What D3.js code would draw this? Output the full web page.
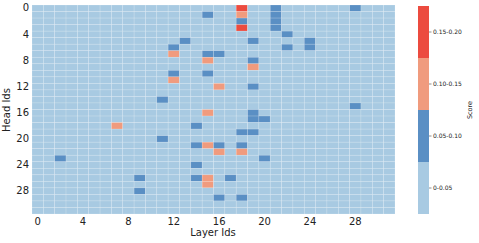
<!DOCTYPE html>
<html>
<head>
<meta charset="utf-8">
<script src="https://cdn.jsdelivr.net/npm/d3@7"></script>
<style>
body{margin:0;background:#fff;}
text{font-family:"DejaVu Sans",sans-serif;fill:#222;}
</style>
</head>
<body>
<div id="chart"></div>
<script>
// layer / head ids
const layers = d3.range(32);
const heads = d3.range(32);
const tickIds = [0,4,8,12,16,20,24,28];

// cells above the base level, as [layer, head, score]
const midCells = [
  [15,1,0.07],[18,2,0.07],[21,0,0.07],[21,1,0.07],[21,2,0.07],[21,3,0.07],[28,0,0.07],
  [22,4,0.07],[13,5,0.07],[19,5,0.07],[24,5,0.07],[12,6,0.07],[22,6,0.07],[24,6,0.07],
  [15,7,0.07],[16,7,0.07],[19,8,0.07],[12,10,0.07],[15,10,0.07],[19,12,0.07],[11,14,0.07],
  [28,15,0.07],[19,16,0.07],[19,17,0.07],[20,17,0.07],[14,18,0.07],[18,19,0.07],[19,19,0.07],
  [11,20,0.07],[14,21,0.07],[16,21,0.07],[18,21,0.07],[2,23,0.07],[20,23,0.07],[14,24,0.07],
  [9,26,0.07],[14,26,0.07],[17,26,0.07],[9,28,0.07],[16,29,0.07],[18,29,0.07]
];
const highCells = [
  [18,1,0.12],[12,7,0.12],[15,8,0.12],[19,9,0.12],[12,11,0.12],[16,12,0.12],[15,16,0.12],
  [7,18,0.12],[15,21,0.12],[16,22,0.12],[18,22,0.12],[15,26,0.12],[15,27,0.12]
];
const topCells = [[18,0,0.17],[18,3,0.17]];
const baseScore = 0.02;

const bins = ['0-0.05','0.05-0.10','0.10-0.15','0.15-0.20'];
const binColors = ['#a8cae2','#5a8fc4','#f09b7e','#ec4b3f'];

const W=479,H=243;
const svg=d3.select('#chart').append('svg').attr('width',W).attr('height',H);

const score=new Map();
[...midCells,...highCells,...topCells].forEach(([l,h,s])=>score.set(l+'_'+h,s));
const grid=[];
heads.forEach(h=>layers.forEach(l=>grid.push({l,h,s:score.get(l+'_'+h) ?? baseScore})));

const x=d3.scaleBand().domain(layers).range([32,395]);
const y=d3.scaleBand().domain(heads).range([5,214]);
const color=d3.scaleThreshold().domain([0.05,0.10,0.15]).range(binColors);

svg.append('g').selectAll('rect').data(grid).join('rect')
  .attr('x',d=>x(d.l)).attr('y',d=>y(d.h))
  .attr('width',x.bandwidth()).attr('height',y.bandwidth())
  .attr('fill',d=>color(d.s))
  .attr('stroke','#fff').attr('stroke-opacity',0.25).attr('stroke-width',0.6);

const xa=svg.append('g').attr('transform','translate(0,214)')
  .call(d3.axisBottom(x).tickValues(tickIds).tickSize(0).tickPadding(3));
const ya=svg.append('g').attr('transform','translate(32,0)')
  .call(d3.axisLeft(y).tickValues(tickIds).tickSize(0).tickPadding(3));
[xa,ya].forEach(a=>{a.select('.domain').remove();a.selectAll('text').style('font-size','10px').attr('fill','#222');});
xa.selectAll('text').attr('dy','0.78em');

svg.append('text').attr('x',213).attr('y',235.5).attr('text-anchor','middle').style('font-size','10px').text('Layer Ids');
svg.append('text').attr('transform','translate(10,110) rotate(-90)').attr('text-anchor','middle').style('font-size','10px').text('Head Ids');

// colour bar
const cb=d3.scaleBand().domain(d3.range(bins.length).reverse()).range([6,214]);
const cg=svg.append('g');
cg.selectAll('rect').data(d3.range(bins.length)).join('rect')
  .attr('x',418).attr('width',11).attr('y',i=>cb(i)).attr('height',cb.bandwidth())
  .attr('fill',i=>binColors[i]);
const ca=cg.append('g').attr('transform','translate(429,0)')
  .call(d3.axisRight(cb).tickSize(2.5).tickPadding(1.5).tickFormat(i=>bins[i]));
ca.select('.domain').remove();
ca.selectAll('line').attr('stroke','#444').attr('stroke-width',0.6);
ca.selectAll('text').style('font-size','6px').attr('fill','#222');
svg.append('text').attr('transform','translate(472,110) rotate(-90)').attr('text-anchor','middle').style('font-size','6.5px').text('Score');
</script>
</body>
</html>
